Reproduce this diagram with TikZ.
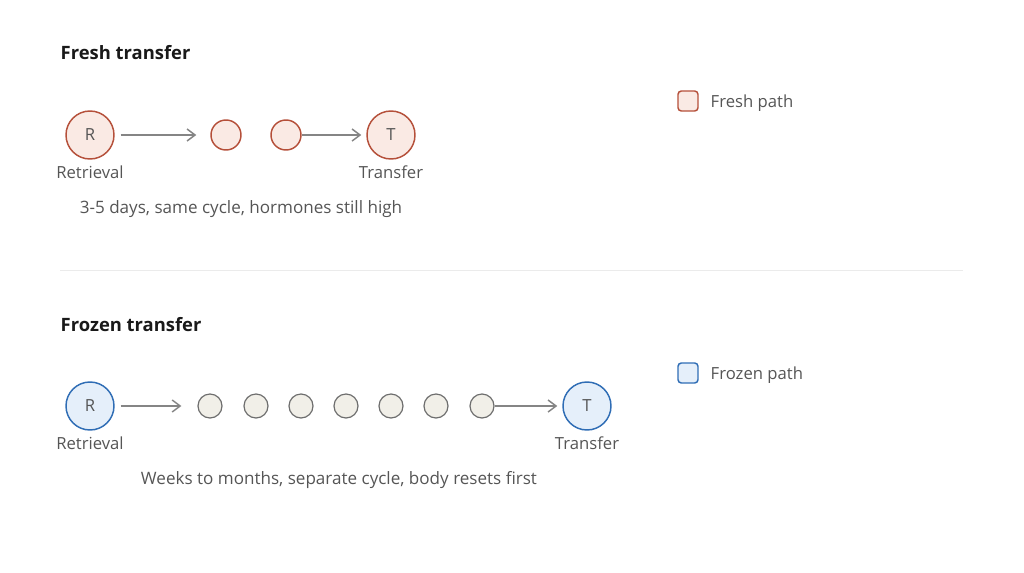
\documentclass[tikz,border=0pt]{standalone}
\usepackage{fontspec}
\setmainfont{Open Sans}
\usetikzlibrary{arrows.meta}
\definecolor{freshdraw}{HTML}{B5503A}
\definecolor{freshfill}{HTML}{FAEAE4}
\definecolor{frozendraw}{HTML}{2F6DB5}
\definecolor{frozenfill}{HTML}{E5EFFA}
\definecolor{stepdraw}{HTML}{6E6E6E}
\definecolor{stepfill}{HTML}{F1EFE8}
\definecolor{txt}{HTML}{555555}
\tikzset{
  big/.style={circle, line width=1.1pt, minimum size=36pt, inner sep=0pt, font=\fontsize{12.5}{14}\selectfont, text=txt},
  fresh/.style={big, draw=freshdraw, fill=freshfill},
  frozen/.style={big, draw=frozendraw, fill=frozenfill},
  freshday/.style={circle, line width=1.1pt, minimum size=22.5pt, inner sep=0pt, draw=freshdraw, fill=freshfill},
  frozenday/.style={circle, line width=0.9pt, minimum size=18pt, inner sep=0pt, draw=stepdraw, fill=stepfill},
  lbl/.style={font=\fontsize{12.5}{15}\selectfont, text=txt},
  note/.style={font=\fontsize{12.8}{15}\selectfont, text=txt},
  heading/.style={font=\fontsize{13.8}{16}\selectfont\bfseries, text=black!90, anchor=west},
  flow/.style={-{Straight Barb[length=6pt,width=9pt]}, line width=1.1pt, draw=black!48},
  key/.style={rounded corners=2.5pt, line width=1.1pt, minimum size=15pt, inner sep=0pt}
}
\begin{document}
\begin{tikzpicture}[x=0.75pt,y=-0.75pt]
\useasboundingbox (0,0) rectangle (1024,572);

% fresh transfer
\node[heading] (freshtitle) at (56,53) {Fresh transfer};
\node[fresh] (freshR) at (90,135) {R};
\node[freshday] (freshA) at (226,135) {};
\node[freshday] (freshB) at (286,135) {};
\node[fresh] (freshT) at (391,135) {T};
\node[lbl] (freshRl) at (90,172) {Retrieval};
\node[lbl] (freshTl) at (391,172) {Transfer};
\node[note] (freshnote) at (241,209.5) {3-5 days, same cycle, hormones still high};
\draw[flow, shorten <=4.5pt, shorten >=10.5pt] (freshR) -- (freshA);
\draw[flow, shorten >=3.75pt] (freshB) -- (freshT);

% separator
\coordinate (sepL) at (60,270);
\coordinate (sepR) at (963,270);
\draw[black!8, line width=0.75pt] (sepL) -- (sepR);

% frozen transfer
\node[heading] (frozentitle) at (56,325) {Frozen transfer};
\node[frozen] (frozenR) at (90,406) {R};
\foreach \i/\x in {1/210,2/256,3/301,4/346,5/391,6/436,7/482}
  \node[frozenday] (day\i) at (\x,406) {};
\node[frozen] (frozenT) at (587,406) {T};
\node[lbl] (frozenRl) at (90,443) {Retrieval};
\node[lbl] (frozenTl) at (587,443) {Transfer};
\node[note] (frozennote) at (339,480.5) {Weeks to months, separate cycle, body resets first};
\draw[flow, shorten <=4.5pt, shorten >=12pt] (frozenR) -- (day1);
\draw[flow, shorten >=3.75pt] (day7) -- (frozenT);

% legend
\node[key, draw=freshdraw, fill=freshfill] (freshkey) at (688,101) {};
\node[lbl, anchor=west] (freshkeyl) at (706,103) {Fresh path};
\node[key, draw=frozendraw, fill=frozenfill] (frozenkey) at (688,373) {};
\node[lbl, anchor=west] (frozenkeyl) at (706,375) {Frozen path};
\end{tikzpicture}
\end{document}
